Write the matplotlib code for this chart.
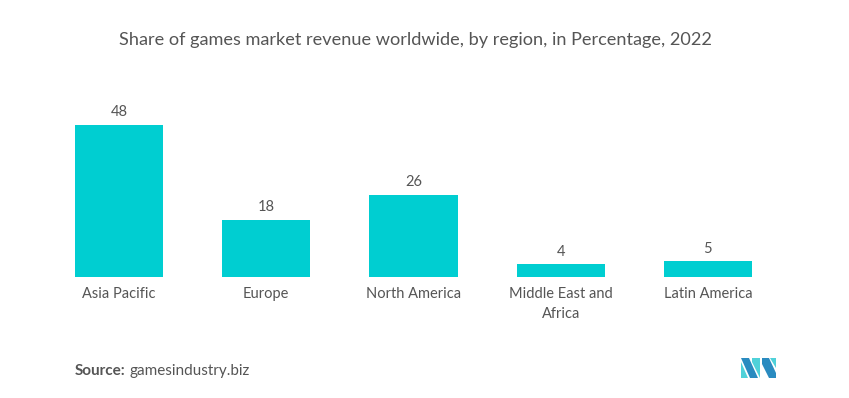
import matplotlib
matplotlib.use("Agg")
import matplotlib.pyplot as plt
from matplotlib.patches import Polygon

categories = ["Asia Pacific", "Europe", "North America", "Middle East and\nAfrica", "Latin America"]
values = [48, 18, 26, 4, 5]

BAR = "#00CED1"
TXT = "#555555"

plt.rcParams['font.family'] = ['Lato', 'DejaVu Sans']

W, H = 849, 398
fig = plt.figure(figsize=(W/100, H/100), dpi=100)
fig.patch.set_facecolor("white")

ax_left, ax_right, ax_bottom, ax_top = 45.5, 781.5, 277, 100
ax = fig.add_axes([ax_left/W, 1-ax_bottom/H, (ax_right-ax_left)/W, (ax_bottom-ax_top)/H])
x = list(range(len(categories)))
bars = ax.bar(x, values, width=0.6, color=BAR)
ax.set_xlim(-0.5, len(categories)-0.5)
ax.set_ylim(0, 48*(ax_bottom-ax_top)/152)
for b, v in zip(bars, values):
    ax.annotate(str(v), (b.get_x()+b.get_width()/2, v), xytext=(0, 4),
                textcoords="offset points", ha="center", va="bottom",
                fontsize=10.5, color=TXT)
ax.set_xticks(x)
ax.set_xticklabels(categories, fontsize=10.5, color=TXT, linespacing=1.5)
ax.tick_params(axis='x', length=0, pad=7.5)
ax.set_yticks([])
for s in ax.spines.values():
    s.set_visible(False)

fig.text(415/W, 1-40/H, "Share of games market revenue worldwide, by region, in Percentage, 2022",
         ha="center", va="center", fontsize=13.1, color=TXT)
fig.text(75/W, 1-371/H, "Source:", ha="left", va="center", fontsize=11,
         color=TXT, fontweight="bold")
fig.text(130/W, 1-371/H, "gamesindustry.biz", ha="left", va="center", fontsize=11, color=TXT)

# logo
def P(pts, c):
    fig.patches.append(Polygon([(px/W, 1-py/H) for px, py in pts], closed=True,
                               transform=fig.transFigure, facecolor=c, edgecolor="none"))
dark = "#2A8BC0"
light = "#4FD1D9"
P([(741, 358), (749, 358), (758, 378), (750, 378)], dark)
P([(741, 362), (741, 378), (748, 378)], light)
P([(752, 358), (760, 358), (760, 378), (752, 362)], light)
P([(762, 358), (769, 358), (776, 373), (776, 378), (769, 378), (762, 364)], dark)
P([(770, 358), (776, 358), (776, 368)], light)

fig.savefig("out.png", dpi=100, facecolor="white")
